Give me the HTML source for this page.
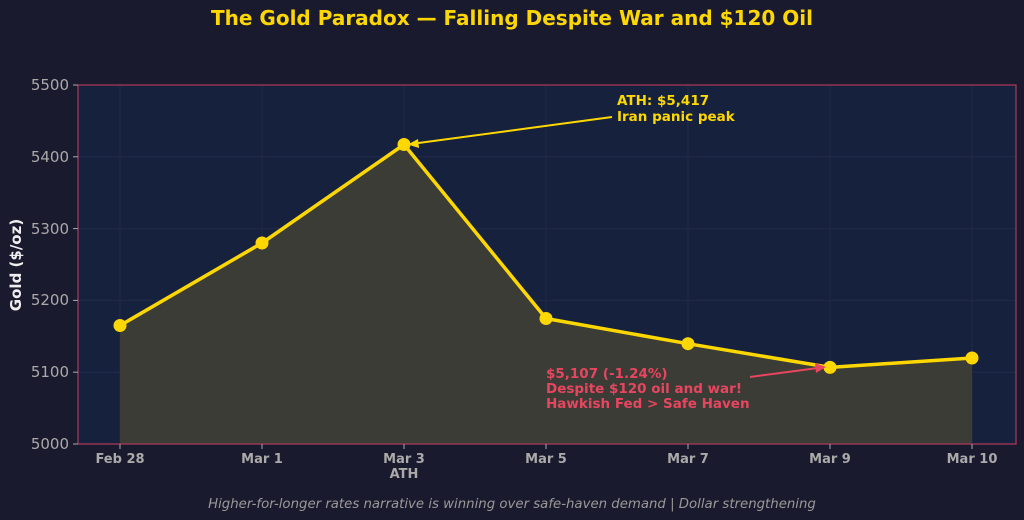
<!DOCTYPE html>
<html><head><meta charset="utf-8"><style>html,body{margin:0;padding:0;background:#1a1a2e;}svg{display:block;font-family:"DejaVu Sans","Liberation Sans",sans-serif;}</style></head>
<body>
<svg width="1024" height="520" viewBox="0 0 1024 520">
<rect width="1024" height="520" fill="#1a1a2e"/>
<text x="512" y="25" text-anchor="middle" font-size="20" font-weight="bold" fill="#ffd700">The Gold Paradox — Falling Despite War and $120 Oil</text>
<rect x="78" y="85" width="938" height="359" fill="#16213e"/>
<g stroke="#2a3350" stroke-width="1" opacity="0.6">
<line x1="78" x2="1016" y1="156.8" y2="156.8"/><line x1="78" x2="1016" y1="228.6" y2="228.6"/><line x1="78" x2="1016" y1="300.4" y2="300.4"/><line x1="78" x2="1016" y1="372.2" y2="372.2"/>
<line x1="120" x2="120" y1="85" y2="444"/><line x1="262" x2="262" y1="85" y2="444"/><line x1="404" x2="404" y1="85" y2="444"/><line x1="546" x2="546" y1="85" y2="444"/><line x1="688" x2="688" y1="85" y2="444"/><line x1="830" x2="830" y1="85" y2="444"/><line x1="972" x2="972" y1="85" y2="444"/>
</g>
<polygon points="120,444 120,325.5 262,243 404,144.5 546,318.5 688,343.7 830,367.4 972,358 972,444" fill="#3a3c35"/>
<polyline points="120,325.5 262,243 404,144.5 546,318.5 688,343.7 830,367.4 972,358" fill="none" stroke="#ffd700" stroke-width="3.5" stroke-linejoin="round"/>
<g fill="#ffd700"><circle cx="120" cy="325.5" r="6.5"/><circle cx="262" cy="243" r="6.5"/><circle cx="404" cy="144.5" r="6.5"/><circle cx="546" cy="318.5" r="6.5"/><circle cx="688" cy="343.7" r="6.5"/><circle cx="830" cy="367.4" r="6.5"/><circle cx="972" cy="358" r="6.5"/></g>
<rect x="78" y="85" width="938" height="359" fill="none" stroke="#b03a5a" stroke-width="1.2"/>
<line x1="612" y1="117" x2="411" y2="144" stroke="#ffd700" stroke-width="2"/>
<polygon points="408,144.5 418,139 419,148" fill="#ffd700"/>
<text x="617" y="105" font-size="13.5" font-weight="bold" fill="#ffd700">ATH: $5,417</text>
<text x="617" y="121" font-size="13.5" font-weight="bold" fill="#ffd700">Iran panic peak</text>
<line x1="750" y1="377" x2="818" y2="368" stroke="#e94560" stroke-width="2"/>
<polygon points="826,367 815,363 816,373" fill="#e94560"/>
<g font-size="13.5" font-weight="bold" fill="#e94560"><text x="546" y="378">$5,107 (-1.24%)</text><text x="546" y="393">Despite $120 oil and war!</text><text x="546" y="408">Hawkish Fed &gt; Safe Haven</text></g>
<g font-size="15" fill="#aaaaaa" text-anchor="end">
<text x="69" y="90">5500</text><text x="69" y="162">5400</text><text x="69" y="234">5300</text><text x="69" y="305">5200</text><text x="69" y="377">5100</text><text x="69" y="449">5000</text></g>
<g stroke="#aaaaaa"><line x1="73" x2="78" y1="85" y2="85"/><line x1="73" x2="78" y1="156.8" y2="156.8"/><line x1="73" x2="78" y1="228.6" y2="228.6"/><line x1="73" x2="78" y1="300.4" y2="300.4"/><line x1="73" x2="78" y1="372.2" y2="372.2"/><line x1="73" x2="78" y1="444" y2="444"/>
<line x1="120" x2="120" y1="444" y2="449"/><line x1="262" x2="262" y1="444" y2="449"/><line x1="404" x2="404" y1="444" y2="449"/><line x1="546" x2="546" y1="444" y2="449"/><line x1="688" x2="688" y1="444" y2="449"/><line x1="830" x2="830" y1="444" y2="449"/><line x1="972" x2="972" y1="444" y2="449"/></g>
<g font-size="13" font-weight="bold" fill="#aaaaaa" text-anchor="middle">
<text x="120" y="463">Feb 28</text><text x="262" y="463">Mar 1</text><text x="404" y="463">Mar 3</text><text x="404" y="478">ATH</text><text x="546" y="463">Mar 5</text><text x="688" y="463">Mar 7</text><text x="830" y="463">Mar 9</text><text x="972" y="463">Mar 10</text></g>
<text transform="translate(21,265) rotate(-90)" text-anchor="middle" font-size="15" font-weight="bold" fill="#eeeeee">Gold ($/oz)</text>
<text x="512" y="508" text-anchor="middle" font-size="13.3" font-style="italic" fill="#999999">Higher-for-longer rates narrative is winning over safe-haven demand | Dollar strengthening</text>
</svg>
</body></html>
